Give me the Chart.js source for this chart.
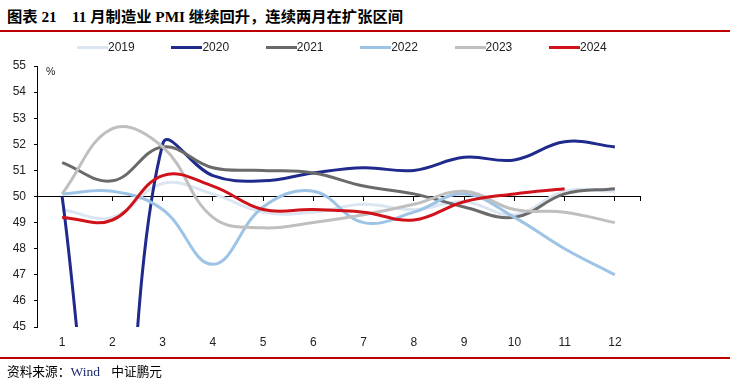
<!DOCTYPE html>
<html>
<head>
<meta charset="utf-8">
<script src="https://cdn.jsdelivr.net/npm/chart.js@4.4.1/dist/chart.umd.min.js"></script>
<style>
  html, body { margin: 0; padding: 0; background: #fff; }
  #wrap { position: relative; width: 730px; height: 383px; overflow: hidden; background: #fff; }
  #c { position: absolute; left: 0; top: 0; }
  .title { position: absolute; left: 7px; top: 4px; font: bold 15.3px "Liberation Serif", "Noto Sans CJK SC", serif; color: #000; white-space: pre; }
  .rule { position: absolute; left: 0; width: 730px; height: 2px; background: #C00000; }
  .src { position: absolute; left: 7px; top: 361px; font: 12.7px "Noto Sans CJK SC", sans-serif; color: #000; white-space: pre; }
  .src .w { font-family: "Liberation Serif", serif; color: #1F2C6B; font-size: 13.5px; }
  .leg { position: absolute; top: 40px; height: 14px; font: 12px "Liberation Sans", Arial, sans-serif; color: #222; white-space: nowrap; }
  .leg i { position: absolute; left: 0; top: 6px; width: 31px; height: 3px; }
  .leg span { position: absolute; left: 31px; top: 0; line-height: 14px; }
  .pct { position: absolute; left: 46px; top: 65px; font: 10.5px "Liberation Sans", Arial, sans-serif; color: #222; }
</style>
</head>
<body>
<div id="wrap">
  <div class="title">图表 21    11 月制造业 PMI 继续回升，连续两月在扩张区间</div>
  <div class="rule" style="top:30px"></div>
  <canvas id="c" width="730" height="383"></canvas>
  <div class="pct">%</div>
  <div id="legend"></div>
  <div class="rule" style="top:357px"></div>
  <div class="src">资料来源：<span class="w">Wind</span>    中证鹏元</div>
</div>
<script>
const months = ["1","2","3","4","5","6","7","8","9","10","11","12"];
const yTicks = [45,46,47,48,49,50,51,52,53,54,55];
const seriesNames = ["2019","2020","2021","2022","2023","2024"];
const pmi2019 = [49.5, 49.2, 50.5, 50.1, 49.4, 49.4, 49.7, 49.5, 49.8, 49.3, 50.2, 50.2];
const pmi2020 = [50.0, 35.7, 52.0, 50.8, 50.6, 50.9, 51.1, 51.0, 51.5, 51.4, 52.1, 51.9];
const pmi2021 = [51.3, 50.6, 51.9, 51.1, 51.0, 50.9, 50.4, 50.1, 49.6, 49.2, 50.1, 50.3];
const pmi2022 = [50.1, 50.2, 49.5, 47.4, 49.6, 50.2, 49.0, 49.4, 50.1, 49.2, 48.0, 47.0];
const pmi2023 = [50.1, 52.6, 51.9, 49.2, 48.8, 49.0, 49.3, 49.7, 50.2, 49.5, 49.4, 49.0];
const pmi2024 = [49.2, 49.1, 50.8, 50.4, 49.5, 49.5, 49.4, 49.1, 49.8, 50.1, 50.3];

const colors = ["#DCE6F3", "#1F2A8C", "#6A6A6A", "#9DC3E6", "#BFBFBF", "#D0121B"];
const values = [pmi2019, pmi2020, pmi2021, pmi2022, pmi2023, pmi2024];

// HTML legend
const legEl = document.getElementById('legend');
seriesNames.forEach((n, i) => {
  const d = document.createElement('div');
  d.className = 'leg';
  d.style.left = (77 + i * 94.4) + 'px';
  d.innerHTML = '<i style="background:' + colors[i] + '"></i><span>' + n + '</span>';
  legEl.appendChild(d);
});

const datasets = seriesNames.map((n, i) => ({
  label: n,
  data: values[i],
  borderColor: colors[i],
  backgroundColor: colors[i],
  borderWidth: 3,
  pointRadius: 0,
  tension: 0.4,
  fill: false,
  xAxisID: 'x',
  yAxisID: 'y',
  order: seriesNames.length - 1 - i
}));

const font = { family: '"Liberation Sans", Arial, sans-serif', size: 12 };

new Chart(document.getElementById('c'), {
  type: 'line',
  data: { labels: months, datasets },
  options: {
    responsive: false,
    animation: false,
    events: [],
    layout: { padding: { top: 66, left: 0, right: 90, bottom: 26 } },
    plugins: { legend: { display: false }, tooltip: { enabled: false }, title: { display: false } },
    scales: {
      x: {
        type: 'category',
        offset: true,
        position: 'bottom',
        border: { display: false },
        grid: { display: false, drawTicks: false },
        ticks: { color: '#222', font, padding: 8, maxRotation: 0, autoSkip: false },
        afterFit: s => { s.height = 30; }
      },
      x2: {
        type: 'linear',
        position: { y: 50 },
        min: 0.5,
        max: 12.5,
        border: { display: true, color: '#000', width: 1 },
        grid: { drawOnChartArea: false, drawTicks: true, tickLength: 4, color: '#000' },
        ticks: { display: false },
        afterBuildTicks: s => { s.ticks = months.map((m, i) => ({ value: i + 1 })).concat([{ value: 12.5 }]); }
      },
      y: {
        type: 'linear',
        min: 45,
        max: 55,
        border: { display: true, color: '#000', width: 1 },
        grid: { drawOnChartArea: false, drawTicks: true, tickLength: 3, color: '#000' },
        ticks: { stepSize: 1, color: '#222', font, padding: 8 },
        afterBuildTicks: s => { s.ticks = yTicks.map(v => ({ value: v })); },
        afterFit: s => { s.width = 37; }
      }
    }
  }
});
</script>
</body>
</html>
